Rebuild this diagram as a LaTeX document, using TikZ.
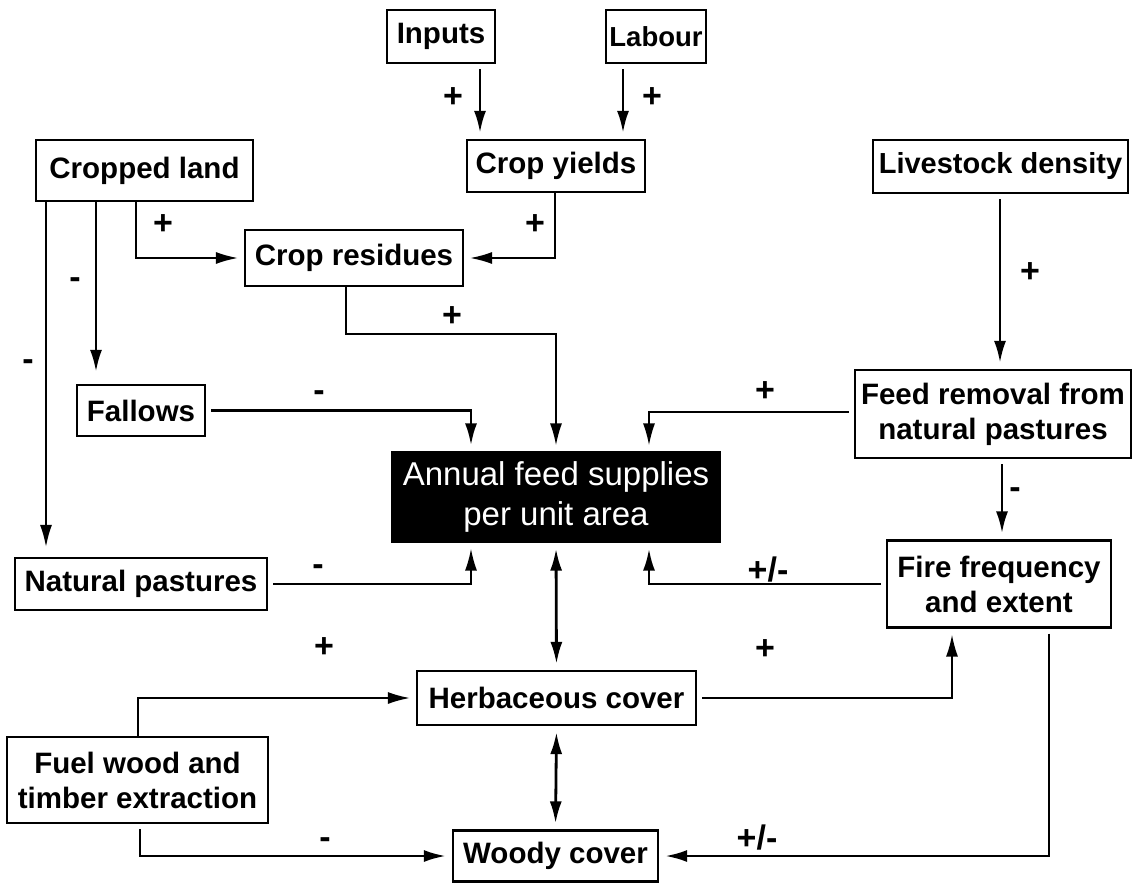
\documentclass[tikz,border=0pt]{standalone}
\usepackage{fontspec}
\setmainfont{Liberation Sans}
\usetikzlibrary{arrows.meta,calc}
\begin{document}
\begin{tikzpicture}[x=1pt,y=-1pt,
  box/.style={draw,line width=2.2pt,inner sep=0pt,align=center,font=\fontsize{29.5}{35}\selectfont\bfseries},
  dark/.style={fill=black,draw=black,text=white,font=\fontsize{33}{40}\selectfont},
  arr/.style={line width=2.8pt,-{Latex[length=22pt,width=12pt]},shorten >=6pt,shorten <=5pt},
  thinarr/.style={arr,line width=1.8pt},
  dbl/.style={line width=2.8pt,{Latex[length=22pt,width=12pt]}-{Latex[length=22pt,width=12pt]},shorten >=6pt,shorten <=6pt},
  sign/.style={font=\fontsize{34}{34}\selectfont\bfseries,inner sep=0pt}]

\useasboundingbox (0,0) rectangle (1134,883);

% nodes
\node[box,minimum width=108pt,minimum height=53pt] (inputs) at (441,36.5) {Inputs};
\node[box,minimum width=100pt,minimum height=53pt,font=\fontsize{27.5}{33}\selectfont\bfseries] (labour) at (656,36.5) {Labour};
\node[box,minimum width=178pt,minimum height=52pt] (yields) at (556,166) {Crop yields};
\node[box,minimum width=217pt,minimum height=61pt] (cropped) at (144.5,170.5) {Cropped land};
\node[box,minimum width=255pt,minimum height=53pt,font=\fontsize{29}{35}\selectfont\bfseries] (livestock) at (1000.5,166.5) {Livestock density};
\node[box,minimum width=218pt,minimum height=56pt] (residues) at (354,258) {Crop residues};
\node[box,minimum width=128pt,minimum height=51pt] (fallows) at (141,410.5) {Fallows};
\node[box,minimum width=276pt,minimum height=88pt] (feedrem) at (993,414) {Feed removal from\\natural pastures};
\node[box,dark,minimum width=328pt,minimum height=89pt] (annual) at (556,497) {Annual feed supplies\\per unit area};
\node[box,minimum width=252pt,minimum height=52pt] (natpast) at (141,584) {Natural pastures};
\node[box,minimum width=224pt,minimum height=87pt] (fire) at (999,584) {Fire frequency\\and extent};
\node[box,minimum width=279pt,minimum height=54pt] (herb) at (556.5,698) {Herbaceous cover};
\node[box,minimum width=261pt,minimum height=86pt] (fuel) at (137.5,780) {Fuel wood and\\timber extraction};
\node[box,minimum width=205pt,minimum height=51pt] (woody) at (555.5,856) {Woody cover};

% connectors
\draw[arr] (inputs.south -| 480,0) -- (yields.north -| 480,0);
\draw[arr] (labour.south -| 623,0) -- (yields.north -| 623,0);
\draw[thinarr,shorten <=0pt] (cropped.south -| 136,0) |- (residues.west);
\draw[thinarr,shorten <=0pt] (yields.south -| 555,0) |- (residues.east);
\draw[arr,shorten <=0pt,shorten >=12pt] (cropped.south -| 96,0) -- (fallows.north -| 96,0);
\draw[thinarr,shorten <=0pt,shorten >=10pt] (cropped.south -| 46,0) -- (natpast.north -| 46,0);
\draw[arr] (fallows.east) -| (annual.north -| 471,0);
\draw[thinarr,shorten <=0pt] (residues.south -| 346,0) -- (346,334) -| (annual.north);
\draw[thinarr] (feedrem.west |- 0,412) -| (annual.north -| 649,0);
\draw[arr] (livestock.south -| 1000,0) -- (feedrem.north -| 1000,0);
\draw[arr] (feedrem.south -| 1002,0) -- (fire.north -| 1002,0);
\draw[thinarr] (natpast.east) -| (annual.south -| 471,0);
\draw[arr] (fire.west) -| (annual.south -| 649,0);
\draw[dbl] (annual.south) -- (herb.north);
\draw[thinarr,shorten <=0pt] (fuel.north -| 138,0) |- (herb.west);
\draw[thinarr] (herb.east) -| (fire.south -| 952,0);
\draw[dbl] (herb.south) -- (woody.north);
\draw[arr] (fuel.south -| 140,0) |- (woody.west);
\draw[arr] (fire.south -| 1049,0) |- (woody.east);

% signs
\node[sign] (s1) at (453,98) {+};
\node[sign] (s2) at (652,98) {+};
\node[sign] (s3) at (163,225) {+};
\node[sign] (s4) at (535,225) {+};
\node[sign] (s5) at (75,283) {-};
\node[sign] (s6) at (28,365) {-};
\node[sign] (s7) at (452,317) {+};
\node[sign] (s8) at (319,396) {-};
\node[sign] (s9) at (765,392) {+};
\node[sign] (s10) at (1030,273) {+};
\node[sign] (s11) at (1015,493) {-};
\node[sign] (s12) at (318,570) {-};
\node[sign] (s13) at (768,570) {+/-};
\node[sign] (s14) at (324,648) {+};
\node[sign] (s15) at (765,650) {+};
\node[sign] (s16) at (325,843) {-};
\node[sign] (s17) at (757,838) {+/-};
\end{tikzpicture}
\end{document}
